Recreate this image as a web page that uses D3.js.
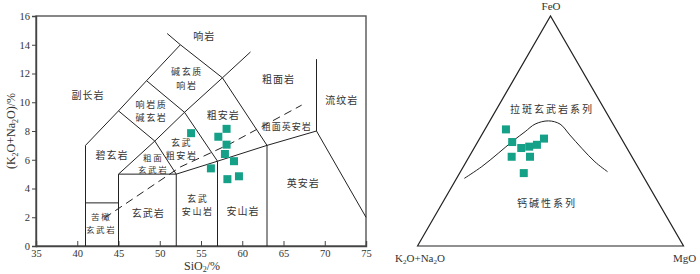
<!DOCTYPE html>
<html>
<head>
<meta charset="utf-8">
<script src="https://cdn.jsdelivr.net/npm/d3@7"></script>
<style>
  body { margin: 0; background: #fff; }
  svg { display: block; }
  .cn { font-family: "Noto Sans CJK SC", sans-serif; fill: #333; }
  .lat { font-family: "Liberation Serif", "DejaVu Serif", serif; fill: #333; }
</style>
</head>
<body>
<div id="chart"></div>
<script>
// ---- TAS data (SiO2 %, K2O+Na2O %) ----
let sio2 =   [53.8, 58.1, 57.1, 58.1, 57.9, 59.0, 56.2, 59.6, 58.2];
let alkali = [7.85, 8.15, 7.60, 7.05, 6.40, 5.90, 5.40, 4.85, 4.65];

let xTicks = [35, 40, 45, 50, 55, 60, 65, 70, 75];
let yTicks = [0, 2, 4, 6, 8, 10, 12, 14, 16];

// TAS field boundaries (SiO2, alkali)
let fieldLines = [
    [[41, 0], [41, 7], [45, 9.4], [48.4, 11.5], [52.5, 14], [50.9, 14.78]],
    [[41, 3], [45, 3]],
    [[45, 0], [45, 5], [52, 5], [57, 5.9], [63, 7], [69, 8], [75, 2]],
    [[45, 5], [49.4, 7.3], [53, 9.3], [57.6, 11.7], [61, 13.5]],
    [[45, 9.4], [49.4, 7.3], [52, 5]],
    [[48.4, 11.5], [53, 9.3], [57, 5.9]],
    [[52.5, 14], [57.6, 11.7], [63, 7]],
    [[52, 0], [52, 5]],
    [[57, 0], [57, 5.9]],
    [[63, 0], [63, 7]],
    [[69, 8], [69, 13]]
];
// alkaline / subalkaline divide
let divideLine = [[43.3, 1.95], [52.5, 5.5], [58.5, 7.1], [67.2, 9.8]];

// field names: lines of text, block centre (SiO2, alkali), font size, line height
let tasLabels = [
    {t: ["副长岩"], x: 41.3, y: 10.5, s: 10},
    {t: ["响岩"], x: 55.4, y: 14.55, s: 10},
    {t: ["碱玄质", "响岩"], x: 53.3, y: 11.63, s: 9, lh: 13.5},
    {t: ["响岩质", "碱玄岩"], x: 49.0, y: 9.35, s: 9, lh: 13},
    {t: ["粗面岩"], x: 64.4, y: 11.55, s: 10},
    {t: ["流纹岩"], x: 72.05, y: 10.1, s: 10},
    {t: ["粗安岩"], x: 57.7, y: 9.1, s: 10},
    {t: ["粗面英安岩"], x: 65.4, y: 8.3, s: 9},
    {t: ["玄武", "粗安岩"], x: 52.65, y: 6.73, s: 9, lh: 13},
    {t: ["碧玄岩"], x: 44.2, y: 6.33, s: 10},
    {t: ["粗面", "玄武岩"], x: 49.2, y: 5.69, s: 8.5, lh: 12.4},
    {t: ["苦橄", "玄武岩"], x: 42.9, y: 1.58, s: 8.5, lh: 12.5},
    {t: ["玄武岩"], x: 48.6, y: 2.27, s: 10},
    {t: ["玄武", "安山岩"], x: 54.6, y: 2.8, s: 9, lh: 13},
    {t: ["安山岩"], x: 60.1, y: 2.43, s: 10},
    {t: ["英安岩"], x: 67.4, y: 4.36, s: 10}
];

// ---- AFM data (%): A = K2O+Na2O, F = FeO, M = MgO ----
let afmA = [41.4, 41.8, 39.7, 36.4, 33.1, 29.1, 45.2, 38.3, 44.2];
let afmF = [50.7, 45.2, 42.6, 43.2, 44.0, 46.7, 38.8, 38.8, 31.7];
let afmM = [7.9, 13.0, 17.7, 20.4, 22.9, 24.2, 16.0, 22.9, 24.1];

// tholeiitic / calc-alkaline divide (A, F, M)
let afmCurve = [
    [67.7, 29.4, 2.9], [58.6, 34.5, 6.9], [49.5, 40.3, 10.2], [41.1, 45.8, 13.1],
    [34.7, 49.7, 15.6], [29.3, 53.0, 17.7], [23.6, 54.4, 22.0], [19.9, 53.0, 27.1],
    [18.6, 48.3, 33.1], [17.0, 42.5, 40.5], [15.0, 36.6, 48.4], [12.4, 32.3, 55.3]
];

let teal = "#15a088";

let svg = d3.select("#chart").append("svg")
    .attr("width", 700)
    .attr("height", 274);

// ================= TAS diagram =================
let x = d3.scaleLinear().domain([35, 75]).range([36, 366]);
let y = d3.scaleLinear().domain([0, 16]).range([246, 16]);

let tas = svg.append("g").attr("class", "tas");

// frame
tas.append("rect")
    .attr("x", x(35)).attr("y", y(16))
    .attr("width", x(75) - x(35)).attr("height", y(0) - y(16))
    .attr("fill", "none").attr("stroke", "#555").attr("stroke-width", 1.4);

let xAxis = d3.axisBottom(x).tickValues(xTicks).tickSize(-5).tickPadding(4);
let yAxis = d3.axisLeft(y).tickValues(yTicks).tickSize(4).tickPadding(2);

tas.append("g")
    .attr("transform", "translate(0," + y(0) + ")")
    .call(xAxis);
tas.append("g")
    .attr("transform", "translate(" + x(35) + ",0)")
    .call(yAxis);

tas.selectAll(".domain").attr("stroke", "#444").attr("stroke-width", 1.4);
tas.selectAll(".tick line").attr("stroke", "#444");
tas.selectAll(".tick text")
    .attr("class", "lat")
    .style("font-size", "10.5px");

let line = d3.line().x(d => x(d[0])).y(d => y(d[1]));

tas.selectAll(".field")
    .data(fieldLines)
    .enter().append("path")
    .attr("class", "field")
    .attr("d", line)
    .attr("fill", "none")
    .attr("stroke", "#222")
    .attr("stroke-width", 1);

tas.append("path")
    .attr("d", line(divideLine))
    .attr("fill", "none")
    .attr("stroke", "#222")
    .attr("stroke-width", 1)
    .attr("stroke-dasharray", "8,5");

let lbl = tas.selectAll(".lbl")
    .data(tasLabels)
    .enter().append("text")
    .attr("class", "cn lbl")
    .attr("x", d => x(d.x))
    .attr("y", d => y(d.y))
    .attr("text-anchor", "middle")
    .style("font-size", d => d.s + "px")
    .style("letter-spacing", d => d.t.length > 1 ? "1.6px" : "1px");

lbl.each(function(d) {
    let el = d3.select(this);
    let lh = d.lh || 12;
    d.t.forEach((s, k) => {
        el.append("tspan")
            .attr("x", x(d.x))
            .attr("dy", k == 0 ? (0.35 * d.s - (d.t.length - 1) * lh / 2) : lh)
            .text(s);
    });
});

let sq = 8;
tas.selectAll(".pt")
    .data(sio2)
    .enter().append("rect")
    .attr("class", "pt")
    .attr("x", (d, i) => x(d) - sq / 2)
    .attr("y", (d, i) => y(alkali[i]) - sq / 2)
    .attr("width", sq).attr("height", sq)
    .attr("fill", teal);

// axis titles
let xt = tas.append("text")
    .attr("class", "lat")
    .attr("x", 202).attr("y", 270)
    .attr("text-anchor", "middle")
    .style("font-size", "12px");
xt.append("tspan").text("SiO");
xt.append("tspan").text("2").style("font-size", "8px").attr("dy", 2);
xt.append("tspan").text("/%").attr("dy", -2);

let yt = tas.append("text")
    .attr("class", "lat")
    .attr("transform", "translate(15,131) rotate(-90)")
    .attr("text-anchor", "middle")
    .style("font-size", "12px");
yt.append("tspan").text("(K");
yt.append("tspan").text("2").style("font-size", "8px").attr("dy", 3);
yt.append("tspan").text("O+Na").attr("dy", -3);
yt.append("tspan").text("2").style("font-size", "8px").attr("dy", 3);
yt.append("tspan").text("O)/%").attr("dy", -3);

// ================= AFM diagram =================
let tx = d3.scaleLinear().domain([0, 1]).range([417.5, 683.5]);
let ty = d3.scaleLinear().domain([0, 1]).range([246, 16]);

function proj(a, f, m) {
    let s = a + f + m;
    return [tx((m + f / 2) / s), ty(f / s)];
}

let afm = svg.append("g").attr("class", "afm");

afm.append("path")
    .attr("d", d3.line()([proj(100, 0, 0), proj(0, 100, 0), proj(0, 0, 100)]) + "Z")
    .attr("fill", "none")
    .attr("stroke", "#222")
    .attr("stroke-width", 1.2);

afm.append("path")
    .attr("d", d3.line().curve(d3.curveCatmullRom)(afmCurve.map(d => proj(d[0], d[1], d[2]))))
    .attr("fill", "none")
    .attr("stroke", "#222")
    .attr("stroke-width", 1);

afm.selectAll(".pt")
    .data(afmA)
    .enter().append("rect")
    .attr("class", "pt")
    .attr("x", (d, i) => proj(d, afmF[i], afmM[i])[0] - sq / 2)
    .attr("y", (d, i) => proj(d, afmF[i], afmM[i])[1] - sq / 2)
    .attr("width", sq).attr("height", sq)
    .attr("fill", teal);

let p1 = proj(19.4, 60, 20.6);
afm.append("text")
    .attr("class", "cn")
    .attr("x", p1[0]).attr("y", p1[1])
    .attr("text-anchor", "middle")
    .attr("dominant-baseline", "central")
    .style("font-size", "10px")
    .style("letter-spacing", "2px")
    .text("拉斑玄武岩系列");

let p2 = proj(42, 18.7, 39.3);
afm.append("text")
    .attr("class", "cn")
    .attr("x", p2[0]).attr("y", p2[1])
    .attr("text-anchor", "middle")
    .attr("dominant-baseline", "central")
    .style("font-size", "10px")
    .style("letter-spacing", "2px")
    .text("钙碱性系列");

// vertex names
afm.append("text")
    .attr("class", "lat")
    .attr("x", 551).attr("y", 10)
    .attr("text-anchor", "middle")
    .style("font-size", "11px")
    .text("FeO");

let kt = afm.append("text")
    .attr("class", "lat")
    .attr("x", 420).attr("y", 262)
    .attr("text-anchor", "middle")
    .style("font-size", "11px");
kt.append("tspan").text("K");
kt.append("tspan").text("2").style("font-size", "7px").attr("dy", 2);
kt.append("tspan").text("O+Na").attr("dy", -2);
kt.append("tspan").text("2").style("font-size", "7px").attr("dy", 2);
kt.append("tspan").text("O").attr("dy", -2);

afm.append("text")
    .attr("class", "lat")
    .attr("x", 673).attr("y", 262)
    .style("font-size", "11px")
    .text("MgO");
</script>
</body>
</html>
